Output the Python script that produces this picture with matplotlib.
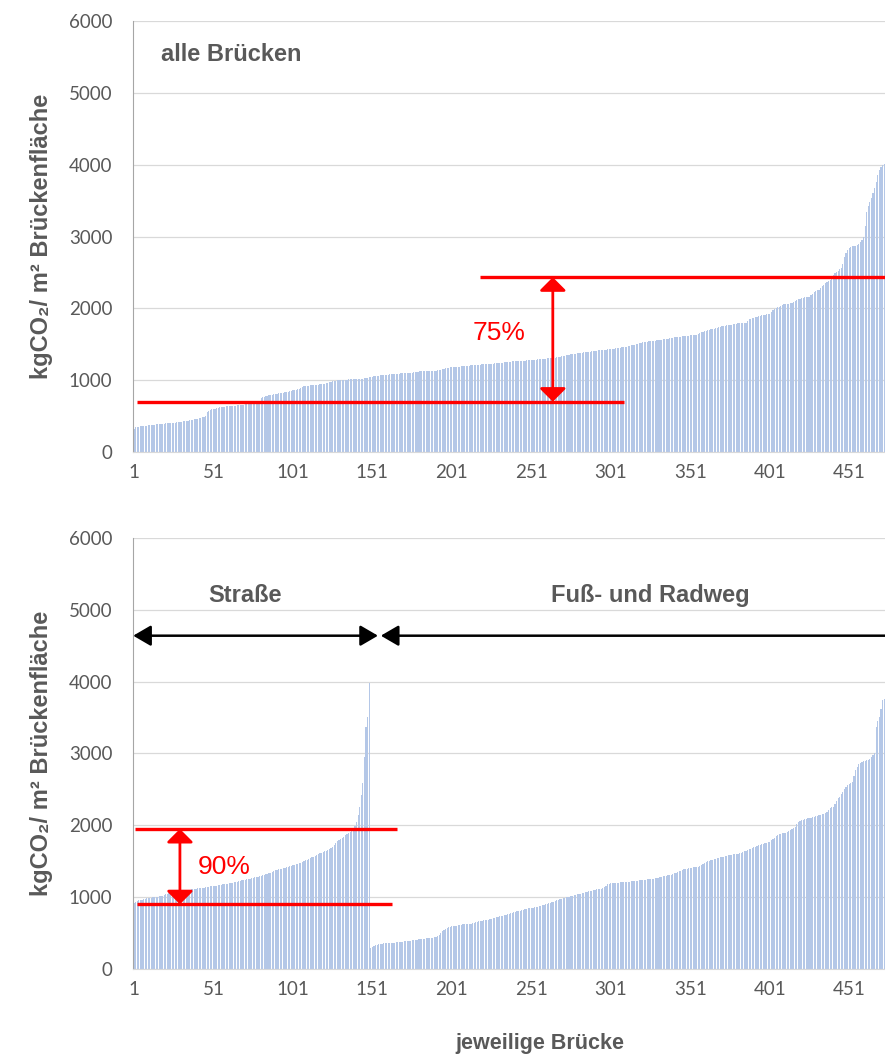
import matplotlib
matplotlib.use("Agg")
import matplotlib.pyplot as plt
import numpy as np

# sorted values, all bridges (kgCO2 / m2 bridge area)
alle = [
    316, 345, 350, 352, 355, 358, 362, 365, 368, 372,
    375, 377, 380, 382, 384, 386, 388, 390, 393, 395,
    397, 399, 401, 403, 405, 408, 410, 413, 416, 420,
    423, 426, 430, 434, 438, 442, 446, 450, 455, 460,
    466, 472, 478, 485, 492, 505, 560, 575, 588, 596,
    601, 605, 608, 614, 620, 625, 628, 632, 635, 638,
    640, 641, 642, 644, 646, 648, 650, 653, 656, 660,
    663, 665, 667, 670, 674, 679, 684, 690, 695, 702,
    757, 765, 772, 778, 784, 789, 794, 799, 804, 808,
    812, 815, 818, 822, 826, 830, 835, 840, 846, 852,
    857, 862, 866, 870, 873, 890, 910, 914, 918, 921,
    924, 926, 929, 931, 934, 936, 939, 941, 944, 947,
    952, 958, 964, 970, 976, 982, 988, 993, 996, 998,
    1000, 1002, 1004, 1006, 1008, 1010, 1012, 1013, 1015, 1016,
    1017, 1018, 1019, 1020, 1021, 1024, 1028, 1032, 1037, 1042,
    1047, 1052, 1056, 1060, 1064, 1068, 1070, 1072, 1074, 1076,
    1078, 1080, 1082, 1084, 1086, 1088, 1090, 1092, 1094, 1096,
    1097, 1099, 1101, 1103, 1104, 1105, 1108, 1112, 1116, 1120,
    1123, 1126, 1128, 1129, 1130, 1131, 1131, 1132, 1132, 1133,
    1133, 1138, 1143, 1148, 1153, 1158, 1163, 1168, 1173, 1177,
    1180, 1182, 1184, 1186, 1188, 1190, 1192, 1194, 1196, 1198,
    1200, 1202, 1204, 1206, 1208, 1210, 1212, 1214, 1216, 1218,
    1220, 1221, 1223, 1225, 1227, 1229, 1231, 1233, 1235, 1237,
    1239, 1241, 1243, 1246, 1249, 1252, 1255, 1258, 1261, 1264,
    1265, 1266, 1267, 1267, 1268, 1270, 1272, 1274, 1276, 1278,
    1280, 1282, 1284, 1286, 1288, 1290, 1292, 1295, 1298, 1300,
    1302, 1303, 1304, 1305, 1308, 1313, 1318, 1323, 1328, 1333,
    1338, 1343, 1348, 1352, 1356, 1360, 1364, 1367, 1370, 1374,
    1377, 1380, 1383, 1386, 1389, 1392, 1395, 1398, 1401, 1404,
    1407, 1410, 1413, 1416, 1418, 1420, 1422, 1425, 1428, 1431,
    1434, 1437, 1440, 1443, 1446, 1449, 1452, 1455, 1460, 1464,
    1467, 1472, 1478, 1484, 1490, 1496, 1502, 1508, 1514, 1520,
    1525, 1530, 1534, 1537, 1540, 1543, 1546, 1549, 1552, 1555,
    1558, 1561, 1564, 1567, 1570, 1574, 1578, 1584, 1588, 1591,
    1594, 1597, 1600, 1603, 1606, 1609, 1612, 1615, 1618, 1621,
    1623, 1625, 1627, 1629, 1630, 1640, 1655, 1668, 1676, 1682,
    1688, 1694, 1700, 1706, 1712, 1718, 1724, 1730, 1736, 1742,
    1748, 1754, 1759, 1764, 1767, 1769, 1773, 1777, 1781, 1785,
    1789, 1792, 1795, 1798, 1800, 1801, 1825, 1848, 1856, 1864,
    1872, 1879, 1886, 1892, 1898, 1903, 1907, 1911, 1915, 1917,
    1918, 1950, 1978, 1990, 2002, 2014, 2025, 2036, 2046, 2054,
    2058, 2061, 2066, 2072, 2080, 2090, 2100, 2112, 2126, 2135,
    2142, 2148, 2153, 2157, 2160, 2163, 2180, 2205, 2233, 2245,
    2252, 2256, 2280, 2305, 2330, 2349, 2365, 2380, 2396, 2425,
    2458, 2488, 2505, 2525, 2542, 2558, 2620, 2720, 2770, 2815,
    2846, 2855, 2862, 2868, 2874, 2883, 2900, 2925, 2955, 2990,
    3150, 3347, 3420, 3480, 3533, 3600, 3680, 3765, 3850, 3928,
    3970, 3997, 4010,
]

# road bridges, sorted
strasse = [
    915, 935, 948, 955, 961, 966, 972, 978, 984, 988,
    991, 994, 997, 1000, 1004, 1008, 1012, 1016, 1022, 1030,
    1038, 1045, 1052, 1058, 1064, 1070, 1075, 1080, 1085, 1089,
    1092, 1095, 1098, 1100, 1103, 1106, 1109, 1112, 1115, 1118,
    1121, 1124, 1127, 1130, 1133, 1137, 1141, 1145, 1149, 1152,
    1155, 1158, 1160, 1164, 1168, 1172, 1176, 1180, 1184, 1189,
    1194, 1198, 1202, 1206, 1210, 1215, 1220, 1226, 1232, 1238,
    1243, 1248, 1253, 1258, 1263, 1268, 1274, 1280, 1286, 1292,
    1298, 1303, 1309, 1316, 1324, 1333, 1342, 1352, 1362, 1372,
    1380, 1387, 1393, 1398, 1402, 1408, 1414, 1420, 1427, 1434,
    1441, 1448, 1455, 1462, 1472, 1482, 1492, 1502, 1512, 1522,
    1532, 1543, 1554, 1565, 1576, 1588, 1598, 1608, 1618, 1628,
    1638, 1648, 1660, 1672, 1686, 1704, 1730, 1755, 1780, 1800,
    1815, 1830, 1843, 1860, 1875, 1890, 1905, 1920, 1936, 1990,
    2052, 2150, 2260, 2420, 2586, 2957, 3375, 3514, 3979,
]

# foot- and cycle bridges, sorted
fuss_rad = [
    297, 310, 322, 334, 340, 345, 349, 352, 355, 357,
    358, 360, 362, 364, 366, 368, 370, 373, 376, 379,
    381, 383, 385, 388, 391, 394, 397, 400, 404, 408,
    411, 413, 416, 419, 422, 425, 428, 431, 434, 436,
    442, 450, 462, 474, 500, 530, 543, 558, 570, 580,
    587, 592, 596, 599, 603, 607, 611, 615, 619, 623,
    625, 626, 627, 632, 638, 644, 650, 656, 662, 668,
    673, 677, 680, 682, 688, 694, 700, 706, 712, 718,
    725, 732, 738, 743, 750, 757, 764, 771, 778, 785,
    792, 798, 804, 810, 812, 818, 824, 830, 836, 842,
    847, 851, 855, 858, 859, 866, 873, 880, 887, 894,
    901, 908, 915, 922, 929, 938, 947, 956, 965, 975,
    980, 984, 990, 996, 1002, 1008, 1014, 1020, 1026, 1032,
    1038, 1044, 1050, 1056, 1064, 1070, 1077, 1082, 1087, 1092,
    1097, 1102, 1107, 1112, 1117, 1120, 1123, 1140, 1160, 1178,
    1186, 1190, 1193, 1196, 1198, 1200, 1202, 1204, 1206, 1208,
    1210, 1212, 1214, 1216, 1218, 1220, 1222, 1226, 1229, 1232,
    1235, 1238, 1241, 1244, 1247, 1250, 1252, 1253, 1256, 1260,
    1265, 1270, 1276, 1282, 1288, 1294, 1300, 1305, 1309, 1315,
    1322, 1330, 1340, 1350, 1360, 1370, 1379, 1385, 1390, 1395,
    1400, 1405, 1410, 1414, 1418, 1421, 1425, 1435, 1450, 1465,
    1478, 1488, 1498, 1508, 1514, 1518, 1525, 1532, 1540, 1548,
    1555, 1560, 1564, 1570, 1576, 1582, 1588, 1593, 1597, 1600,
    1602, 1606, 1612, 1620, 1630, 1640, 1648, 1656, 1665, 1674,
    1684, 1694, 1704, 1712, 1720, 1727, 1734, 1741, 1748, 1756,
    1764, 1773, 1790, 1810, 1830, 1850, 1866, 1876, 1884, 1891,
    1895, 1898, 1908, 1920, 1935, 1950, 1965, 1982, 2020, 2052,
    2062, 2070, 2078, 2085, 2092, 2098, 2104, 2108, 2112, 2118,
    2125, 2132, 2140, 2148, 2155, 2162, 2168, 2190, 2220, 2240,
    2255, 2261, 2300, 2340, 2375, 2400, 2430, 2465, 2500, 2539,
    2560, 2580, 2595, 2609, 2680, 2772, 2810, 2855, 2870, 2880,
    2890, 2898, 2905, 2912, 2925, 2950, 2980, 3004, 3375, 3450,
    3514, 3620, 3746, 3760,
]

x_ticks = [1, 51, 101, 151, 201, 251, 301, 351, 401, 451]
y_ticks = [0, 1000, 2000, 3000, 4000, 5000, 6000]

# reference ranges (red brackets)
alle_low, alle_high = 700, 2433
str_low, str_high = 900, 1950

BAR = '#b4c7e7'
GRAY = '#595959'
TICK_FONT = ['Lato', 'DejaVu Sans']
BOLD_FONT = ['Liberation Sans', 'DejaVu Sans']
YLABEL = 'kgCO₂/ m² Brückenfläche'

fig = plt.figure(figsize=(8.85, 10.57), dpi=100)
ax1 = fig.add_axes([0.1505, 0.5724, 0.8495, 0.4077])
ax2 = fig.add_axes([0.1505, 0.0833, 0.8495, 0.4077])

n = len(alle)


def style_axis(ax):
    ax.set_xlim(0.5, n + 0.5)
    ax.set_ylim(0, 6000)
    ax.set_xticks(x_ticks)
    ax.set_yticks(y_ticks)
    ax.tick_params(length=0, colors=GRAY, labelsize=13.5)
    ax.tick_params(axis='y', pad=15)
    ax.tick_params(axis='x', pad=9)
    for lab in ax.get_xticklabels() + ax.get_yticklabels():
        lab.set_family(TICK_FONT)
    ax.grid(axis='y', color='#d9d9d9', lw=0.9)
    ax.set_axisbelow(True)
    ax.spines['top'].set_visible(False)
    ax.spines['right'].set_visible(False)
    ax.spines['left'].set_color('#a6a6a6')
    ax.spines['bottom'].set_color('#d9d9d9')
    ax.set_ylabel(YLABEL, fontsize=17, fontweight='bold', color=GRAY,
                  family=BOLD_FONT, labelpad=11)


def bracket(ax, x0, x1, x2, x3, xa, lo, hi):
    ax.plot([x0, x1], [lo, lo], color='red', lw=2.4, solid_capstyle='butt')
    ax.plot([x2, x3], [hi, hi], color='red', lw=2.4, solid_capstyle='butt')
    ax.annotate('', xy=(xa, hi), xytext=(xa, lo),
                arrowprops=dict(arrowstyle='<|-|>,head_length=0.45,head_width=0.45',
                                color='red', lw=2, shrinkA=0, shrinkB=0,
                                mutation_scale=18))


# top panel: all bridges
pos = np.arange(1, n + 1)
ax1.bar(pos, alle, width=0.75, color=BAR, linewidth=0)
style_axis(ax1)
ax1.text(18, 5540, 'alle Brücken', fontsize=17, fontweight='bold', color=GRAY,
         family=BOLD_FONT, va='center')
bracket(ax1, 2.9, 309, 218.6, n + 0.5, 264.5, alle_low, alle_high)
ax1.text(231, 1660, '75%', fontsize=19, color='red', family=BOLD_FONT,
         ha='center', va='center')

# bottom panel: road vs foot/cycle bridges
pos_s = np.arange(1, len(strasse) + 1)
pos_f = np.arange(len(strasse) + 1, len(strasse) + len(fuss_rad) + 1)
ax2.bar(pos_s, strasse, width=0.75, color=BAR, linewidth=0)
ax2.bar(pos_f, fuss_rad, width=0.75, color=BAR, linewidth=0)
style_axis(ax2)
bracket(ax2, 2.9, 163.6, 1.8, 166.6, 29.9, str_low, str_high)
ax2.text(57.6, 1425, '90%', fontsize=19, color='red', family=BOLD_FONT,
         ha='center', va='center')

arrow_kw = dict(arrowstyle='<|-|>,head_length=0.6,head_width=0.35', color='black',
                lw=1.8, shrinkA=0, shrinkB=0, mutation_scale=18)
ax2.annotate('', xy=(0.5, 4640), xytext=(154.5, 4640), arrowprops=arrow_kw,
             annotation_clip=False)
# the right arrow runs off the plot, so only its left head shows
arrow_kw2 = dict(arrow_kw, arrowstyle='-|>,head_length=0.6,head_width=0.35')
ax2.annotate('', xy=(156.3, 4640), xytext=(n + 0.5, 4640), arrowprops=arrow_kw2,
             annotation_clip=False)
ax2.text(70.8, 5195, 'Straße', fontsize=17, fontweight='bold', color=GRAY,
         family=BOLD_FONT, ha='center', va='center')
ax2.text(326, 5195, 'Fuß- und Radweg', fontsize=17, fontweight='bold', color=GRAY,
         family=BOLD_FONT, ha='center', va='center')

fig.text(540 / 885, 14 / 1057, 'jeweilige Brücke', fontsize=15.5, fontweight='bold',
         color=GRAY, family=BOLD_FONT, ha='center', va='center')

fig.savefig('out.png', dpi=100)
